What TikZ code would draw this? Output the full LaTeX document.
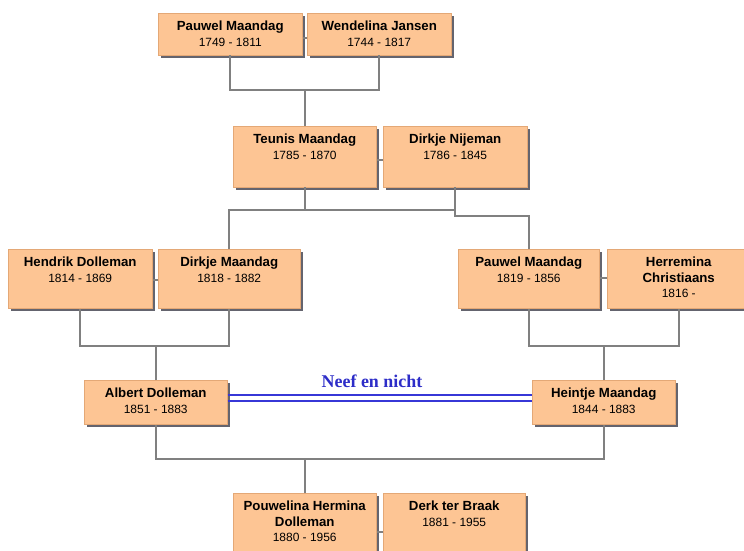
\documentclass[tikz,border=0pt]{standalone}
\usepackage{fontspec}
\setmainfont{Liberation Sans}
\newfontfamily\serifbold{Liberation Serif}
\usetikzlibrary{shadows,calc}
\definecolor{boxfill}{RGB}{253,197,148}
\definecolor{boxedge}{RGB}{228,168,118}
\definecolor{shadowc}{RGB}{100,100,110}
\definecolor{conncol}{RGB}{128,128,128}
\definecolor{relblue}{RGB}{45,45,200}
\definecolor{linblue}{RGB}{55,55,215}
\newcommand{\pname}[1]{{\fontsize{13.3}{15.5}\selectfont\bfseries #1}}
\tikzset{
  person/.style={rectangle, fill=boxfill, draw=boxedge, line width=0.5bp, inner sep=0pt,
    anchor=north west, minimum width=144bp,
    drop shadow={shadow xshift=3bp, shadow yshift=-3bp, fill=shadowc, opacity=1}},
  ptext/.style={anchor=north, inner sep=0pt, align=center,
    font=\fontsize{12}{15.5}\selectfont},
  conn/.style={draw=conncol, line width=2bp},
  rel/.style={draw=linblue, line width=1.8bp},
  reltext/.style={text=relblue, inner sep=0pt, font=\serifbold\bfseries\fontsize{18}{20}\selectfont}
}
\begin{document}
\begin{tikzpicture}[x=1bp,y=-1bp]
\useasboundingbox (0,0) rectangle (744,551);
\clip (0,0) rectangle (744,551);
\fill[white] (0,0) rectangle (744,551);
% persons
\node[person, minimum height=42bp] (pm1) at (158,13) {};
\node[person, minimum height=42bp] (wj) at (307,13) {};
\node[person, minimum height=61bp, minimum width=143bp] (tm) at (233,126) {};
\node[person, minimum height=61bp] (dn) at (383,126) {};
\node[person, minimum height=59bp] (hd) at (8,249) {};
\node[person, minimum height=59bp, minimum width=142bp] (dm) at (158,249) {};
\node[person, minimum height=59bp, minimum width=141bp] (pm2) at (458,249) {};
\node[person, minimum height=59bp, minimum width=143bp] (hc) at (607,249) {};
\node[person, minimum height=44bp, minimum width=143bp] (ad) at (84,380) {};
\node[person, minimum height=44bp, minimum width=143bp] (hm) at (532,380) {};
\node[person, minimum height=75bp, minimum width=143bp] (ph) at (233,493) {};
\node[person, minimum height=75bp, minimum width=142bp] (db) at (383,493) {};
% texts
\node[ptext] (pm1t) at ($(pm1.north)+(0,8)$) {\pname{Pauwel Maandag}\\1749 - 1811};
\node[ptext] (wjt) at ($(wj.north)+(0,8)$) {\pname{Wendelina Jansen}\\1744 - 1817};
\node[ptext] (tmt) at ($(tm.north)+(0,8)$) {\pname{Teunis Maandag}\\1785 - 1870};
\node[ptext] (dnt) at ($(dn.north)+(0,8)$) {\pname{Dirkje Nijeman}\\1786 - 1845};
\node[ptext] (hdt) at ($(hd.north)+(0,8)$) {\pname{Hendrik Dolleman}\\1814 - 1869};
\node[ptext] (dmt) at ($(dm.north)+(0,8)$) {\pname{Dirkje Maandag}\\1818 - 1882};
\node[ptext] (pm2t) at ($(pm2.north)+(0,8)$) {\pname{Pauwel Maandag}\\1819 - 1856};
\node[ptext] (hct) at ($(hc.north)+(0,8)$) {\pname{Herremina}\\\pname{Christiaans}\\1816 -};
\node[ptext] (adt) at ($(ad.north)+(0,8)$) {\pname{Albert Dolleman}\\1851 - 1883};
\node[ptext] (hmt) at ($(hm.north)+(0,8)$) {\pname{Heintje Maandag}\\1844 - 1883};
\node[ptext] (pht) at ($(ph.north)+(0,8)$) {\pname{Pouwelina Hermina}\\\pname{Dolleman}\\1880 - 1956};
\node[ptext] (dbt) at ($(db.north)+(0,8)$) {\pname{Derk ter Braak}\\1881 - 1955};
% spouse stubs
\draw[conn] (pm1.east |- 0,38) -- (wj.west |- 0,38);
\draw[conn] (tm.east |- 0,160) -- (dn.west |- 0,160);
\draw[conn] (hd.east |- 0,280) -- (dm.west |- 0,280);
\draw[conn] (pm2.east |- 0,278) -- (hc.west |- 0,278);
\draw[conn] (ph.east |- 0,532) -- (db.west |- 0,532);
% generation 1 -> 2
\coordinate (j1) at ($(pm1.south)+(0,35)$);
\draw[conn] (pm1.south) -- (j1) -| (wj.south);
\draw[conn] (tm.north) -- (tm.north |- j1);
% generation 2 -> 3
\coordinate (j2) at ($(tm.south)+(0,23)$);
\draw[conn] (tm.south) -- (j2);
\draw[conn] (dm.north) |- (dn.south |- j2);
\draw[conn] (dn.south) |- ($(pm2.north |- j2)+(0,6)$) -- (pm2.north);
% generation 3 -> 4
\coordinate (j3) at ($(hd.south)+(0,37)$);
\draw[conn] (hd.south) -- (j3) -| (dm.south);
\draw[conn] (ad.north) -- (ad.north |- j3);
\coordinate (j4) at ($(pm2.south)+(0,37)$);
\draw[conn] (pm2.south) -- (j4) -| (hc.south);
\draw[conn] (hm.north) -- (hm.north |- j4);
% generation 4 -> 5
\coordinate (j5) at ($(ad.south)+(0,34)$);
\draw[conn] (ad.south) -- (j5) -| (hm.south);
\draw[conn] (ph.north) -- (ph.north |- j5);
% cousins relation (double line)
\draw[rel] ($(ad.east)+(0,-7)$) -- ($(hm.west)+(0,-7)$);
\draw[rel] ($(ad.east)+(0,-1)$) -- ($(hm.west)+(0,-1)$);
\node[reltext] (rl) at (372,381) {Neef en nicht};
\end{tikzpicture}
\end{document}
